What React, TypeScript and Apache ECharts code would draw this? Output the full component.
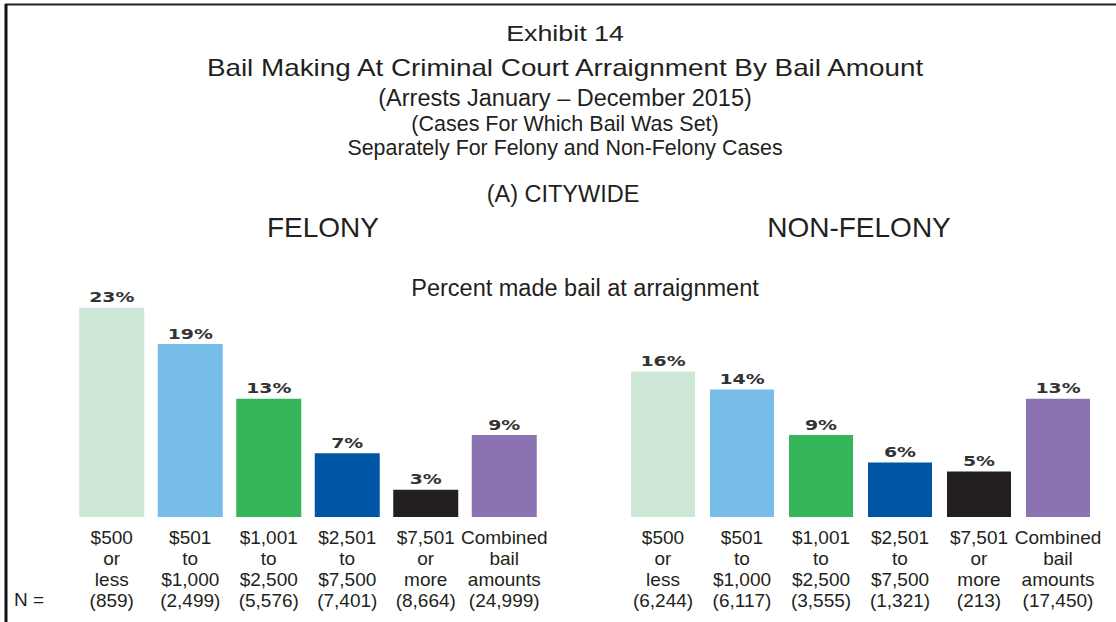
import React, { useEffect, useRef } from "react";
import * as echarts from "echarts";

const categories = [
  "$500\nor\nless",
  "$501\nto\n$1,000",
  "$1,001\nto\n$2,500",
  "$2,501\nto\n$7,500",
  "$7,501\nor\nmore",
  "Combined\nbail\namounts",
];
const felonyN = ["(859)", "(2,499)", "(5,576)", "(7,401)", "(8,664)", "(24,999)"];
const nonFelonyN = ["(6,244)", "(6,117)", "(3,555)", "(1,321)", "(213)", "(17,450)"];
const felonyValues = [23, 19, 13, 7, 3, 9];
const nonFelonyValues = [16, 14, 9, 6, 5, 13];
const barColors = ["#cde7d7", "#76bde8", "#35b55a", "#0055a5", "#231f20", "#8b73b1"];

const titleLines = [
  "Exhibit 14",
  "Bail Making At Criminal Court Arraignment By Bail Amount",
  "(Arrests January \u2013 December 2015)",
  "(Cases For Which Bail Was Set)",
  "Separately For Felony and Non-Felony Cases",
];

const FONT = "'Liberation Sans', Arial, sans-serif";
const TEXT = "#231f20";

export default function App() {
  const ref = useRef<HTMLDivElement>(null);
  useEffect(() => {
    if (!ref.current) return;
    const chart = echarts.init(ref.current, null, { renderer: "svg" });
    const labelFor = (ns: string[]) => (v: string, i: number) => `${v}\n${ns[i]}`;
    const mkData = (vals: number[]) =>
      vals.map((v, i) => ({ value: v, itemStyle: { color: barColors[i] } }));
    const xAxisBase = {
      type: "category" as const,
      data: categories,
      axisLine: { show: false },
      axisTick: { show: false },
      splitLine: { show: false },
    };
    const axisLabelBase = {
      interval: 0,
      fontFamily: FONT,
      fontSize: 19,
      lineHeight: 21,
      color: TEXT,
      margin: 10,
      align: "center" as const,
    };
    const valueLabels = (vals: number[], axis: number) => ({
      type: "custom",
      xAxisIndex: axis,
      yAxisIndex: axis,
      data: vals.map((v, i) => [i, v]),
      silent: true,
      z: 5,
      renderItem: (params: any, api: any) => {
        const pt = api.coord([api.value(0), api.value(1)]);
        return {
          type: "text",
          x: pt[0],
          y: pt[1] - 3,
          scaleX: 1.35,
          style: {
            text: `${api.value(1)}%`,
            fill: "#333",
            fontFamily: "'DejaVu Sans', sans-serif",
            fontWeight: "bold",
            fontSize: 14,
            textAlign: "center",
            textVerticalAlign: "bottom",
          },
        };
      },
    });
    const titleSizes = [22, 24, 23.5, 21.5, 21.4];
    const titleScale = [1.22, 1.16, 1, 1, 1];
    const titleY = [33, 68, 98, 124, 148];
    const centered = (text: string, x: number, y: number, fontSize: number, scaleX = 1) => ({
      type: "text",
      x,
      y,
      scaleX,
      style: { text, fontFamily: FONT, fontSize, fill: TEXT, textAlign: "center", textVerticalAlign: "middle" },
    });
    chart.setOption({
      animation: false,
      grid: [
        { left: 72.5, width: 471, top: 289.5, height: 227.5 },
        { left: 623.5, width: 474, top: 289.5, height: 227.5 },
      ],
      xAxis: [
        { ...xAxisBase, gridIndex: 0, axisLabel: { ...axisLabelBase, formatter: labelFor(felonyN) } },
        { ...xAxisBase, gridIndex: 1, axisLabel: { ...axisLabelBase, formatter: labelFor(nonFelonyN) } },
      ],
      yAxis: [
        { type: "value", gridIndex: 0, min: 0, max: 25, show: false },
        { type: "value", gridIndex: 1, min: 0, max: 25, show: false },
      ],
      series: [
        { type: "bar", xAxisIndex: 0, yAxisIndex: 0, data: mkData(felonyValues), barWidth: 65 },
        { type: "bar", xAxisIndex: 1, yAxisIndex: 1, data: mkData(nonFelonyValues), barWidth: 64 },
        valueLabels(felonyValues, 0),
        valueLabels(nonFelonyValues, 1),
      ],
      graphic: [
        { type: "line", shape: { x1: 5, y1: 4.5, x2: 1116, y2: 4.5 }, style: { stroke: "#222", lineWidth: 2 } },
        { type: "line", shape: { x1: 6, y1: 4, x2: 6, y2: 622 }, style: { stroke: "#111", lineWidth: 3 } },
        ...titleLines.map((t, i) => centered(t, 565, titleY[i], titleSizes[i], titleScale[i])),
        centered("(A) CITYWIDE", 563, 194, 23.5),
        centered("FELONY", 323, 227, 28),
        centered("NON-FELONY", 859, 227, 28),
        centered("Percent made bail at arraignment", 585, 288, 23.5),
        {
          type: "text",
          x: 14,
          y: 599,
          style: { text: "N =", fontFamily: FONT, fontSize: 19, fill: TEXT, textAlign: "left", textVerticalAlign: "middle" },
        },
      ],
    });
    return () => chart.dispose();
  }, []);
  return (
    <div
      ref={ref}
      style={{ position: "fixed", left: 0, top: 0, width: 1116, height: 622, background: "#fff" }}
    />
  );
}
